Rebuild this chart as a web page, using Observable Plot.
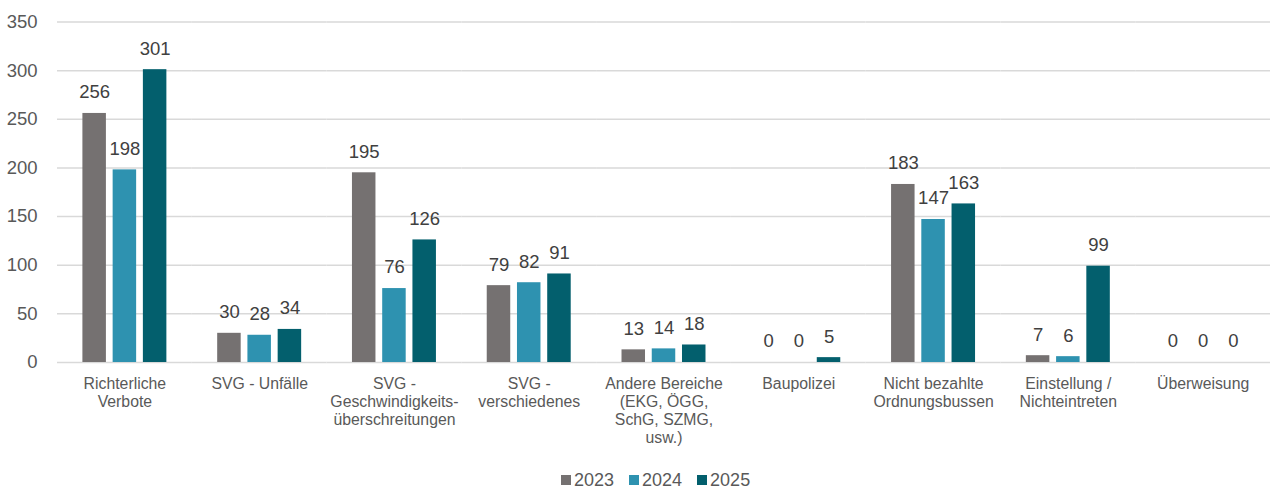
<!DOCTYPE html>
<html>
<head>
<meta charset="utf-8">
<script src="https://cdn.jsdelivr.net/npm/d3@7"></script>
<script src="https://cdn.jsdelivr.net/npm/@observablehq/plot@0.6"></script>
<style>
  html, body { margin: 0; padding: 0; background: #fff; }
  body { width: 1275px; height: 488px; position: relative; overflow: hidden; font-family: "Liberation Sans", Arial, sans-serif; }
  #chart { position: absolute; left: 0; top: 0; }
  #legend { position: absolute; left: 0; top: 467px; width: 1275px; height: 26px; display: flex; align-items: center; padding-left: 561px; box-sizing: border-box; }
  #legend > div { margin: 0 !important; min-height: 0 !important; font-size: 18px !important; color: #595959 !important; font-family: "Liberation Sans", Arial, sans-serif !important; }
  #legend .lg-swatch { margin-right: 15px !important; }
  #legend .lg-swatch > svg { margin-right: 3px !important; }
</style>
</head>
<body>
<div id="chart"></div>
<div id="legend"></div>
<script>
const categories = [
  "Richterliche Verbote",
  "SVG - Unfälle",
  "SVG - Geschwindigkeitsüberschreitungen",
  "SVG - verschiedenes",
  "Andere Bereiche (EKG, ÖGG, SchG, SZMG, usw.)",
  "Baupolizei",
  "Nicht bezahlte Ordnungsbussen",
  "Einstellung / Nichteintreten",
  "Überweisung"
];
const tickLabels = [
  "Richterliche\nVerbote",
  "SVG - Unfälle",
  "SVG -\nGeschwindigkeits-\nüberschreitungen",
  "SVG -\nverschiedenes",
  "Andere Bereiche\n(EKG, ÖGG,\nSchG, SZMG,\nusw.)",
  "Baupolizei",
  "Nicht bezahlte\nOrdnungsbussen",
  "Einstellung /\nNichteintreten",
  "Überweisung"
];
const years = ["2023", "2024", "2025"];
const values2023 = [256, 30, 195, 79, 13, 0, 183, 7, 0];
const values2024 = [198, 28, 76, 82, 14, 0, 147, 6, 0];
const values2025 = [301, 34, 126, 91, 18, 5, 163, 99, 0];
const yTicks = [0, 50, 100, 150, 200, 250, 300, 350];
const colors = ["#757171", "#2E92B0", "#035F6D"];

const series = [values2023, values2024, values2025];
const data = [];
categories.forEach((c, i) => {
  years.forEach((y, j) => data.push({category: c, year: y, value: series[j][i]}));
});
const labelOf = new Map(categories.map((c, i) => [c, tickLabels[i]]));

const chart = Plot.plot({
  width: 1275,
  height: 467,
  marginLeft: 57,
  marginRight: 5,
  marginTop: 21.5,
  marginBottom: 105,
  style: {fontFamily: "'Liberation Sans', Arial, sans-serif", color: "#595959", background: "#fff"},
  fx: {domain: categories, padding: 0, round: false, label: null},
  x: {domain: years, paddingInner: 0.223, paddingOuter: 0.84, round: false, axis: null},
  y: {domain: [0, 350], label: null},
  color: {domain: years, range: colors},
  marks: [
    Plot.gridY(yTicks, {stroke: "#D9D9D9", strokeOpacity: 1, strokeWidth: 1.5}),
    Plot.axisY(yTicks, {tickSize: 0, tickPadding: 20, fontSize: 18.5, fill: "#595959", label: null}),
    Plot.axisFx({anchor: "bottom", tickSize: 0, tickPadding: 14, fontSize: 15.8, lineHeight: 1.13, fill: "#595959", label: null, tickFormat: d => labelOf.get(d)}),
    Plot.barY(data, {fx: "category", x: "year", y: "value", fill: "year"}),
    Plot.text(data, {fx: "category", x: "year", y: "value", text: d => String(d.value), dy: -21, fontSize: 18.5, fill: "#404040"})
  ]
});
document.getElementById("chart").appendChild(chart);

const legend = Plot.legend({
  color: {type: "ordinal", domain: years, range: colors},
  swatchSize: 10,
  className: "lg"
});
document.getElementById("legend").appendChild(legend);
</script>
</body>
</html>
